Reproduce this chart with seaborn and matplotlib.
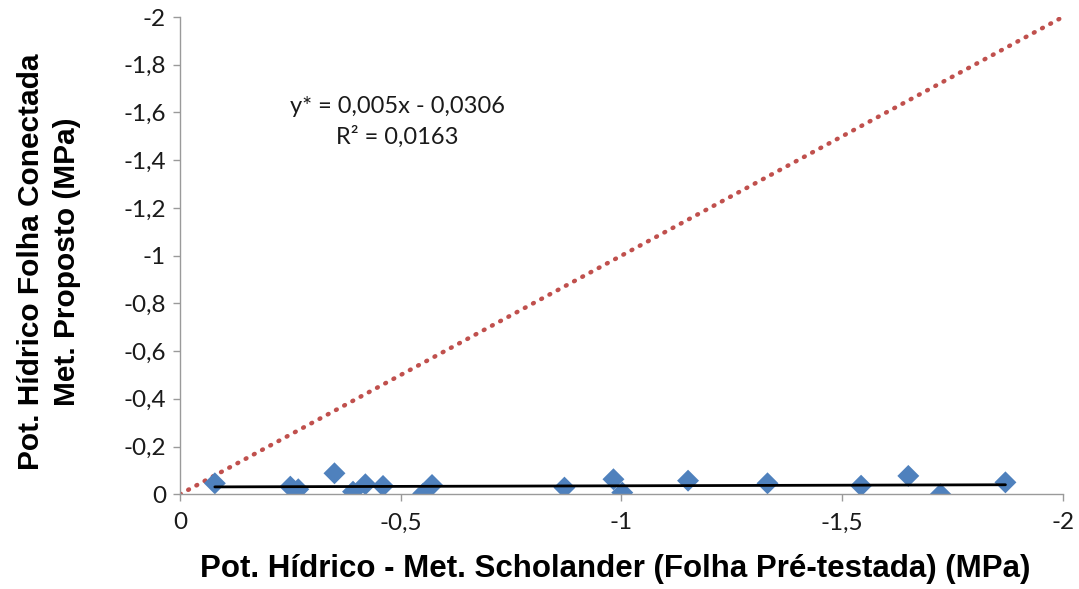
import numpy as np
import pandas as pd
import matplotlib
matplotlib.use("Agg")
import matplotlib.pyplot as plt
import seaborn as sns

# Leaf water potential (MPa): Scholander pressure chamber vs. proposed method
scholander = [-0.079, -0.250, -0.268, -0.350, -0.392, -0.420, -0.460, -0.551, -0.571,
              -0.871, -0.982, -1.002, -1.151, -1.331, -1.543, -1.650, -1.723, -1.870]
proposto = [-0.046, -0.032, -0.021, -0.088, -0.011, -0.042, -0.035, -0.003, -0.039,
            -0.028, -0.063, -0.007, -0.057, -0.046, -0.036, -0.077, -0.000, -0.050]

# Fitted trend line coefficients
slope = 0.005
intercept = -0.0306
r2 = 0.0163

x_ticks = [0, -0.5, -1, -1.5, -2]
x_tick_labels = ["0", "-0,5", "-1", "-1,5", "-2"]
y_ticks = [0, -0.2, -0.4, -0.6, -0.8, -1, -1.2, -1.4, -1.6, -1.8, -2]
y_tick_labels = ["0", "-0,2", "-0,4", "-0,6", "-0,8", "-1", "-1,2", "-1,4", "-1,6", "-1,8", "-2"]

df = pd.DataFrame({"scholander": scholander, "proposto": proposto})

sns.set_theme(style="white")
plt.rcParams["font.family"] = ["Lato", "DejaVu Sans"]

fig = plt.figure(figsize=(10.79, 5.89), dpi=100)
ax = fig.add_axes([0.1668, 0.1608, 0.8182, 0.8103])

# 1:1 reference line
ax.plot([0, -2], [0, -2], linestyle=(0, (0.2, 1.9)), color="#C0504D",
        linewidth=3.2, dash_capstyle="round", zorder=1)

sns.scatterplot(data=df, x="scholander", y="proposto", marker="D", s=125,
                color="#4F81BD", edgecolor="none", linewidth=0, ax=ax, zorder=2)

# Linear trend over the data range
xs = np.array([max(scholander), min(scholander)])
ax.plot(xs, slope * xs + intercept, color="black", linewidth=2.0, zorder=3)

ax.set_xlim(0, -2)
ax.set_ylim(0, -2)
ax.set_xticks(x_ticks)
ax.set_xticklabels(x_tick_labels, fontsize=17.5)
ax.set_yticks(y_ticks)
ax.set_yticklabels(y_tick_labels, fontsize=17.5)

for side in ["top", "right"]:
    ax.spines[side].set_visible(False)
for side in ["left", "bottom"]:
    ax.spines[side].set_color("#9A9A9A")
    ax.spines[side].set_linewidth(1.0)

ax.tick_params(axis="both", which="major", direction="out", length=5, width=1.0,
               color="#9A9A9A", labelcolor="#1a1a1a", pad=5,
               bottom=True, left=True)
ax.tick_params(axis="x", pad=8)

label_font = dict(family=["Liberation Sans", "DejaVu Sans"], fontweight="bold",
                  color="black")
ax.set_xlabel("Pot. Hídrico - Met. Scholander (Folha Pré-testada) (MPa)",
              fontsize=22.5, **label_font)
ax.set_ylabel("Pot. Hídrico Folha Conectada\nMet. Proposto (MPa)",
              linespacing=1.35, fontsize=21.5, **label_font)
ax.xaxis.set_label_coords(0.493, -0.125)
ax.yaxis.set_label_coords(-0.112, 0.487)

ax.text(-0.492, -1.623, "y* = 0,005x - 0,0306", ha="center", va="center", fontsize=17,
        color="#1a1a1a")
ax.text(-0.492, -1.498, f"R² = {str(r2).replace('.', ',')}", ha="center", va="center",
        fontsize=17, color="#1a1a1a")

fig.savefig("out.png", dpi=100)
